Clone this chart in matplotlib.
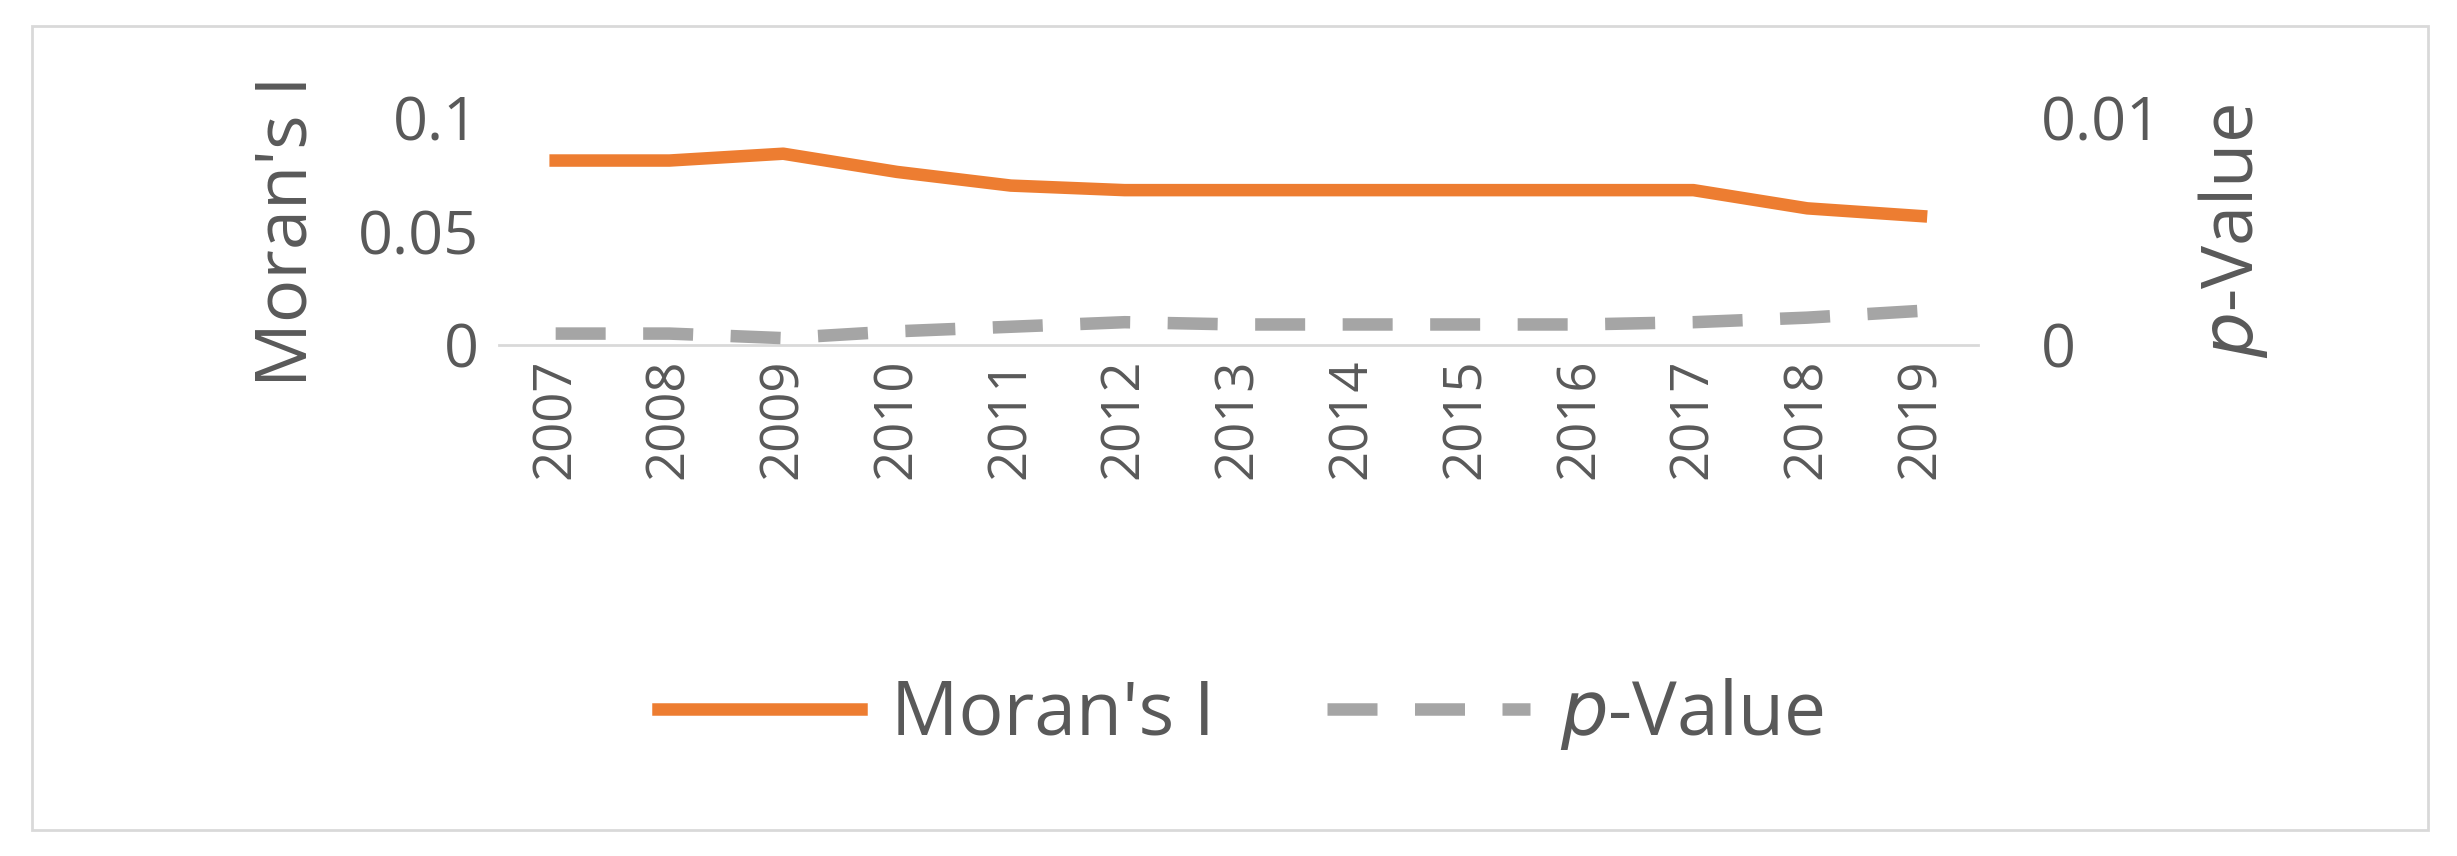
import matplotlib
matplotlib.use("Agg")
import matplotlib.pyplot as plt
from matplotlib.patches import Rectangle

years = ["2007","2008","2009","2010","2011","2012","2013","2014","2015","2016","2017","2018","2019"]
moran = [0.081,0.081,0.084,0.076,0.070,0.068,0.068,0.068,0.068,0.068,0.068,0.060,0.0566]
pval = [0.0005,0.0005,0.0003,0.0006,0.0008,0.0010,0.0009,0.0009,0.0009,0.0009,0.0010,0.0012,0.0015]

fig = plt.figure(figsize=(24.57, 8.56), dpi=100)
plt.rcParams['font.family'] = ['Open Sans', 'DejaVu Sans']
fig.patches.append(Rectangle((0.013, 0.03), 0.975, 0.94, transform=fig.transFigure,
                             fill=False, edgecolor='#d9d9d9', linewidth=2))
ax = fig.add_axes([0.203, 0.597, 0.602, 0.266])
x = range(len(years))
l1, = ax.plot(x, moran, color='#ed7d31', linewidth=9, label="Moran's I")
ax.set_ylim(0, 0.1)
ax.set_yticks([0, 0.05, 0.1])
ax.set_yticklabels(['0', '0.05', '0.1'])
ax.set_xlim(-0.5, len(years) - 0.5)
ax.set_xticks(list(x))
ax.set_xticklabels(years, rotation=90)
for s in ['top', 'left', 'right']:
    ax.spines[s].set_visible(False)
ax.spines['bottom'].set_color('#d9d9d9')
ax.spines['bottom'].set_linewidth(2)
ax.tick_params(axis='x', length=0, labelsize=38, colors='#595959', pad=10)
ax.tick_params(axis='y', length=0, labelsize=44, colors='#595959', pad=14)
ax.set_ylabel("Moran's I", fontsize=52, color='#595959', labelpad=25)

ax2 = ax.twinx()
l2, = ax2.plot(x, pval, color='#a5a5a5', linewidth=9, linestyle=(0, (4, 3)), label='$p$-Value')
ax2.set_ylim(0, 0.01)
ax2.set_yticks([0, 0.01])
ax2.set_yticklabels(['0', '0.01'])
for s in ['top', 'left', 'right', 'bottom']:
    ax2.spines[s].set_visible(False)
ax2.tick_params(axis='y', length=0, labelsize=44, colors='#595959', pad=45)
ax2.set_ylabel('$p$-Value', fontsize=52, color='#595959', labelpad=25)

fig.legend([l1, l2], ["Moran's I", "$p$-Value"], loc='center', bbox_to_anchor=(0.505, 0.165),
           ncol=2, frameon=False, fontsize=54, handlelength=2.7, handletextpad=0.4,
           columnspacing=1.5, labelcolor='#595959')
fig.savefig('out.png', dpi=100)
